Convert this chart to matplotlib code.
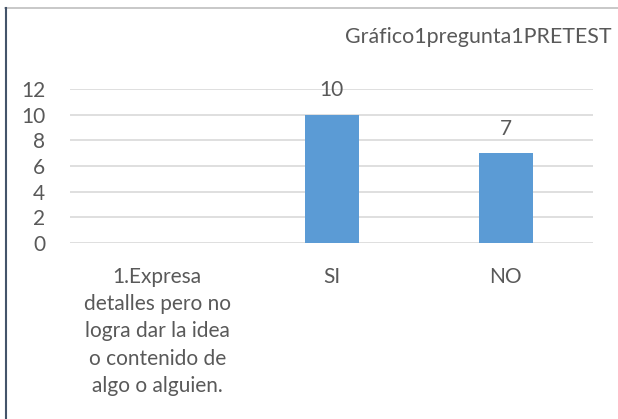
import matplotlib.pyplot as plt
from matplotlib.lines import Line2D

categorias = ["1.Expresa\ndetalles pero no\nlogra dar la idea\no contenido de\nalgo o alguien.", "SI", "NO"]
valores = [0, 10, 7]
titulo = "Gráfico1pregunta1PRETEST"

plt.rcParams['font.family'] = ['Lato', 'DejaVu Sans']
gris = '#595959'
azul = '#5b9bd5'

fig = plt.figure(figsize=(6.18, 4.19), dpi=100)
ax = fig.add_axes([0.1133, 0.42, 0.8463, 0.3676])

x = list(range(len(categorias)))
ax.bar(x, valores, width=0.31, color=azul, zorder=3)
for xi, v in zip(x, valores):
    if v > 0:
        ax.text(xi, v + 1.9, str(v), ha='center', va='center', fontsize=15, color=gris)

ax.set_xlim(-0.5, 2.5)
ax.set_ylim(0, 12)
ax.set_yticks(range(0, 13, 2))
ax.yaxis.grid(True, color='#d9d9d9', linewidth=1.2, zorder=0)
ax.set_axisbelow(True)
for s in ax.spines.values():
    s.set_visible(False)
ax.tick_params(axis='y', length=0, labelsize=15, labelcolor=gris, pad=18)
ax.tick_params(axis='x', length=0, labelsize=15, labelcolor=gris, pad=17)
ax.set_xticks(x)
ax.set_xticklabels(categorias, linespacing=1.46)

fig.text(0.99, 0.912, titulo, ha='right', va='center', fontsize=15.4, color=gris)

# marco del gráfico
fig.add_artist(Line2D([0.008, 1.0], [0.981, 0.981], color='#bfbfbf', linewidth=1.2))
fig.add_artist(Line2D([0.009, 0.009], [0.0, 0.981], color='#44546a', linewidth=1.5))

fig.savefig("out.png", dpi=100)
